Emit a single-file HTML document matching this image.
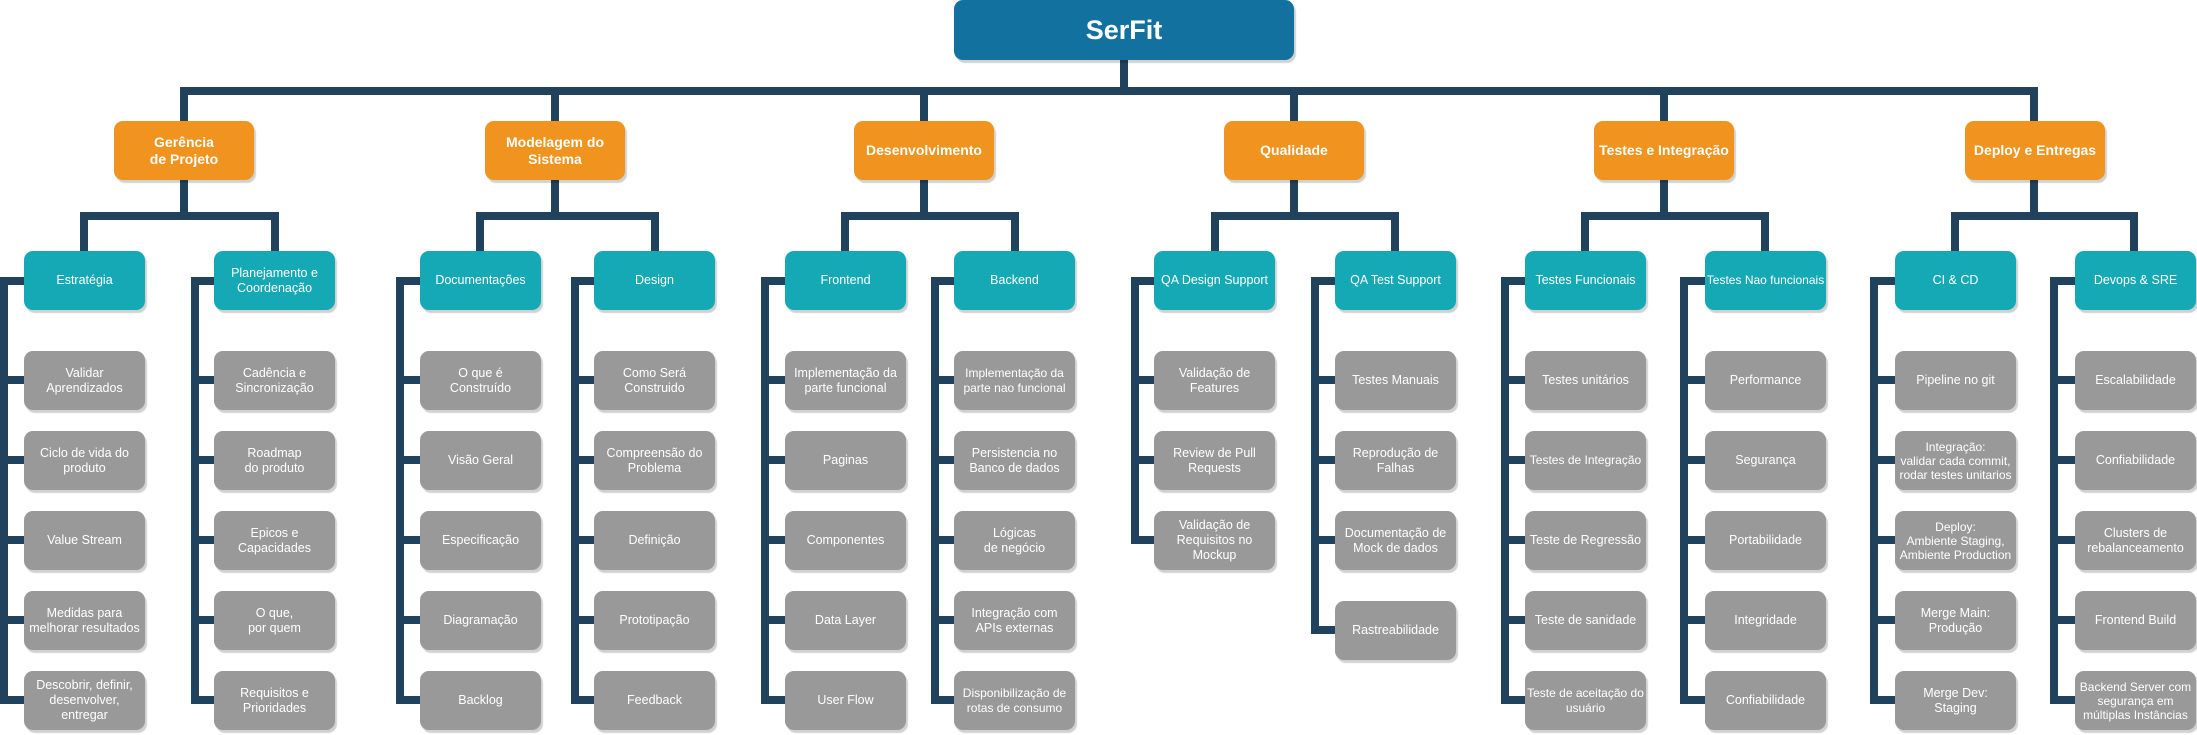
<!DOCTYPE html>
<html><head><meta charset="utf-8"><style>
html,body{margin:0;padding:0;background:#fff;}
body{width:2197px;height:735px;position:relative;overflow:hidden;font-family:"Liberation Sans",Arial,sans-serif;}
svg{position:absolute;left:0;top:0;}
.b{position:absolute;display:flex;align-items:center;justify-content:center;text-align:center;color:#fff;border-radius:9px;box-shadow:2px 3px 1px rgba(0,0,0,0.18);box-sizing:border-box;}
.o{background:#f0931f;width:140px;height:59px;top:121px;font-weight:bold;font-size:14px;line-height:17px;}
.t{background:#15a9b5;width:121px;height:59px;top:251px;font-size:12.5px;line-height:15px;}
.g{background:#999;width:121px;height:59px;font-size:12.5px;line-height:15px;}
.r{background:#13719f;left:954px;top:0;width:340px;height:60px;font-weight:bold;font-size:27px;}
</style></head><body>
<svg width="2197" height="735" fill="none" stroke="#21425c" stroke-width="8" stroke-linejoin="miter">
<path d="M1124 60V91M180 91H2038M184 91V121M555 91V121M924 91V121M1294 91V121M1664 91V121M2034 91V121"/>
<path d="M184 180V216M84 251V216H275V251"/>
<path d="M555 180V216M480 251V216H655V251"/>
<path d="M924 180V216M845 251V216H1015V251"/>
<path d="M1294 180V216M1215 251V216H1395V251"/>
<path d="M1664 180V216M1585 251V216H1765V251"/>
<path d="M2034 180V216M1955 251V216H2134V251"/>
<path d="M24 281H4V700H24M4 380H24M4 460H24M4 540H24M4 620H24"/>
<path d="M214 281H195V700H214M195 380H214M195 460H214M195 540H214M195 620H214"/>
<path d="M420 281H400V700H420M400 380H420M400 460H420M400 540H420M400 620H420"/>
<path d="M594 281H575V700H594M575 380H594M575 460H594M575 540H594M575 620H594"/>
<path d="M785 281H765V700H785M765 380H785M765 460H785M765 540H785M765 620H785"/>
<path d="M954 281H935V700H954M935 380H954M935 460H954M935 540H954M935 620H954"/>
<path d="M1154 281H1135V540H1154M1135 380H1154M1135 460H1154"/>
<path d="M1335 281H1315V630H1335M1315 380H1335M1315 460H1335M1315 540H1335"/>
<path d="M1525 281H1505V700H1525M1505 380H1525M1505 460H1525M1505 540H1525M1505 620H1525"/>
<path d="M1705 281H1684V700H1705M1684 380H1705M1684 460H1705M1684 540H1705M1684 620H1705"/>
<path d="M1895 281H1874V700H1895M1874 380H1895M1874 460H1895M1874 540H1895M1874 620H1895"/>
<path d="M2075 281H2054V700H2075M2054 380H2075M2054 460H2075M2054 540H2075M2054 620H2075"/>
</svg>

<div class="b r">SerFit</div>

<div class="b o" style="left:114px">Gerência<br>de Projeto</div>
<div class="b o" style="left:485px">Modelagem do<br>Sistema</div>
<div class="b o" style="left:854px">Desenvolvimento</div>
<div class="b o" style="left:1224px">Qualidade</div>
<div class="b o" style="left:1594px">Testes e Integração</div>
<div class="b o" style="left:1965px">Deploy e Entregas</div>

<div class="b t" style="left:24px">Estratégia</div>
<div class="b t" style="left:214px">Planejamento e<br>Coordenação</div>
<div class="b t" style="left:420px">Documentações</div>
<div class="b t" style="left:594px">Design</div>
<div class="b t" style="left:785px">Frontend</div>
<div class="b t" style="left:954px">Backend</div>
<div class="b t" style="left:1154px">QA Design Support</div>
<div class="b t" style="left:1335px">QA Test Support</div>
<div class="b t" style="left:1525px">Testes Funcionais</div>
<div class="b t" style="left:1705px;font-size:12px">Testes Nao funcionais</div>
<div class="b t" style="left:1895px">CI &amp; CD</div>
<div class="b t" style="left:2075px">Devops &amp; SRE</div>

<div class="b g" style="left:24px;top:351px">Validar<br>Aprendizados</div>
<div class="b g" style="left:24px;top:431px">Ciclo de vida do<br>produto</div>
<div class="b g" style="left:24px;top:511px">Value Stream</div>
<div class="b g" style="left:24px;top:591px">Medidas para<br>melhorar resultados</div>
<div class="b g" style="left:24px;top:671px">Descobrir, definir,<br>desenvolver,<br>entregar</div>

<div class="b g" style="left:214px;top:351px">Cadência e<br>Sincronização</div>
<div class="b g" style="left:214px;top:431px">Roadmap<br>do produto</div>
<div class="b g" style="left:214px;top:511px">Epicos e<br>Capacidades</div>
<div class="b g" style="left:214px;top:591px">O que,<br>por quem</div>
<div class="b g" style="left:214px;top:671px">Requisitos e<br>Prioridades</div>

<div class="b g" style="left:420px;top:351px">O que é<br>Construído</div>
<div class="b g" style="left:420px;top:431px">Visão Geral</div>
<div class="b g" style="left:420px;top:511px">Especificação</div>
<div class="b g" style="left:420px;top:591px">Diagramação</div>
<div class="b g" style="left:420px;top:671px">Backlog</div>

<div class="b g" style="left:594px;top:351px">Como Será<br>Construido</div>
<div class="b g" style="left:594px;top:431px">Compreensão do<br>Problema</div>
<div class="b g" style="left:594px;top:511px">Definição</div>
<div class="b g" style="left:594px;top:591px">Prototipação</div>
<div class="b g" style="left:594px;top:671px">Feedback</div>

<div class="b g" style="left:785px;top:351px">Implementação da<br>parte funcional</div>
<div class="b g" style="left:785px;top:431px">Paginas</div>
<div class="b g" style="left:785px;top:511px">Componentes</div>
<div class="b g" style="left:785px;top:591px">Data Layer</div>
<div class="b g" style="left:785px;top:671px">User Flow</div>

<div class="b g" style="left:954px;top:351px;font-size:12px">Implementação da<br>parte nao funcional</div>
<div class="b g" style="left:954px;top:431px">Persistencia no<br>Banco de dados</div>
<div class="b g" style="left:954px;top:511px">Lógicas<br>de negócio</div>
<div class="b g" style="left:954px;top:591px">Integração com<br>APIs externas</div>
<div class="b g" style="left:954px;top:671px;font-size:12px">Disponibilização de<br>rotas de consumo</div>

<div class="b g" style="left:1154px;top:351px">Validação de<br>Features</div>
<div class="b g" style="left:1154px;top:431px">Review de Pull<br>Requests</div>
<div class="b g" style="left:1154px;top:511px">Validação de<br>Requisitos no<br>Mockup</div>

<div class="b g" style="left:1335px;top:351px">Testes Manuais</div>
<div class="b g" style="left:1335px;top:431px">Reprodução de<br>Falhas</div>
<div class="b g" style="left:1335px;top:511px">Documentação de<br>Mock de dados</div>
<div class="b g" style="left:1335px;top:601px">Rastreabilidade</div>

<div class="b g" style="left:1525px;top:351px">Testes unitários</div>
<div class="b g" style="left:1525px;top:431px;font-size:12px">Testes de Integração</div>
<div class="b g" style="left:1525px;top:511px">Teste de Regressão</div>
<div class="b g" style="left:1525px;top:591px">Teste de sanidade</div>
<div class="b g" style="left:1525px;top:671px;font-size:12px">Teste de aceitação do<br>usuário</div>

<div class="b g" style="left:1705px;top:351px">Performance</div>
<div class="b g" style="left:1705px;top:431px">Segurança</div>
<div class="b g" style="left:1705px;top:511px">Portabilidade</div>
<div class="b g" style="left:1705px;top:591px">Integridade</div>
<div class="b g" style="left:1705px;top:671px">Confiabilidade</div>

<div class="b g" style="left:1895px;top:351px">Pipeline no git</div>
<div class="b g" style="left:1895px;top:431px;font-size:12px;line-height:14px">Integração:<br>validar cada commit,<br>rodar testes unitarios</div>
<div class="b g" style="left:1895px;top:511px;font-size:12px;line-height:14px">Deploy:<br>Ambiente Staging,<br>Ambiente Production</div>
<div class="b g" style="left:1895px;top:591px">Merge Main:<br>Produção</div>
<div class="b g" style="left:1895px;top:671px">Merge Dev:<br>Staging</div>

<div class="b g" style="left:2075px;top:351px">Escalabilidade</div>
<div class="b g" style="left:2075px;top:431px">Confiabilidade</div>
<div class="b g" style="left:2075px;top:511px">Clusters de<br>rebalanceamento</div>
<div class="b g" style="left:2075px;top:591px">Frontend Build</div>
<div class="b g" style="left:2075px;top:671px;font-size:12px;line-height:14px">Backend Server com<br>segurança em<br>múltiplas Instâncias</div>
</body></html>
